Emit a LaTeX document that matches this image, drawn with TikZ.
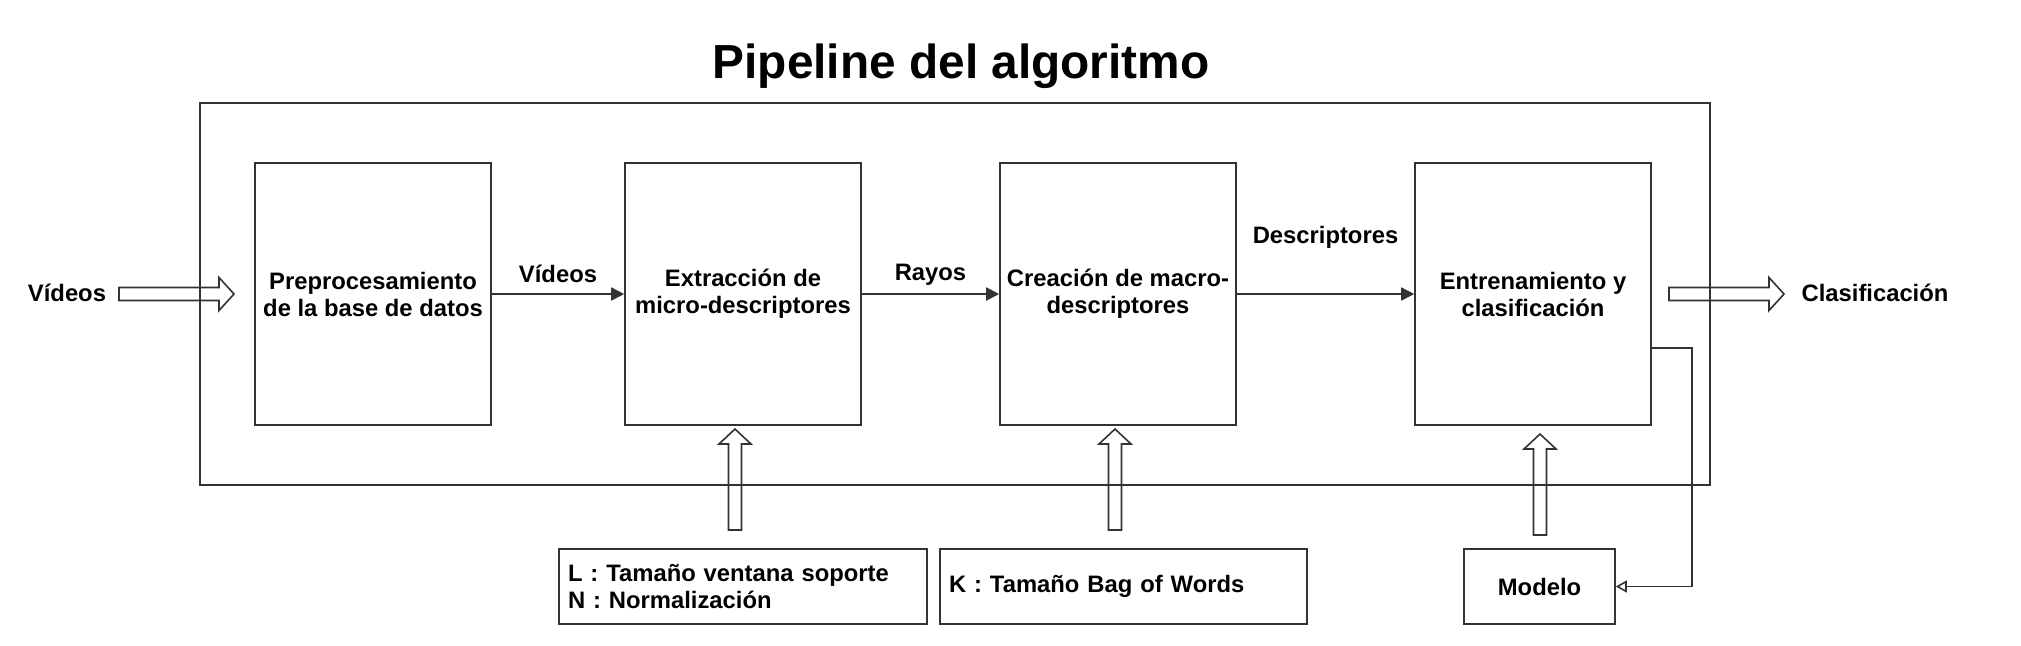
\documentclass[tikz,border=0pt]{standalone}
\usepackage{fontspec}
\setmainfont{Liberation Sans}
\usetikzlibrary{arrows.meta}
\definecolor{linea}{HTML}{333333}
\begin{document}
\begin{tikzpicture}[x=0.5pt,y=-0.5pt,
        bloque/.style={draw=linea,line width=0.8pt,minimum width=118pt,minimum height=131pt,
            align=center,font=\fontsize{11.9}{13.5}\selectfont\bfseries,inner sep=0pt},
        param/.style={draw=linea,line width=0.8pt,minimum height=37.5pt,align=left,
            font=\fontsize{11.9}{13.5}\selectfont\bfseries,inner xsep=4.5pt,inner ysep=0pt},
        etiqueta/.style={font=\fontsize{11.9}{13.5}\selectfont\bfseries},
        flujo/.style={draw=linea,line width=0.8pt,-{Triangle[length=6.5pt,width=6.5pt]}},
        retorno/.style={draw=linea,line width=0.8pt,-{Triangle[open,length=5.5pt,width=6pt]}},
        gruesa/.style={draw=linea,line width=0.8pt}]
        \useasboundingbox (0,0) rectangle (2021,645);

        % Titulo
        \node[font=\fontsize{23.9}{28}\selectfont\bfseries] (titulo) at (961,66) {Pipeline del algoritmo};

        % Marco
        \draw[draw=linea,line width=0.8pt] (200,103) rectangle (1710,485);

        % Bloques
        \node[bloque] (prep) at (373,294) {Preprocesamiento\\de la base de datos};
        \node[bloque] (extr) at (743,294) {Extracci\'on de\\micro-descriptores};
        \node[bloque] (macro) at (1118,294) {Creaci\'on de macro-\\descriptores};
        \node[bloque] (entr) at (1533,294) {Entrenamiento y\\clasificaci\'on};

        % Parametros
        \node[param,minimum width=184pt,text width=175pt] (pextr) at (743,586.5)
            {L : Tama\~no ventana soporte\\N : Normalizaci\'on};
        \node[param,minimum width=183.5pt,text width=174.5pt] (pmacro) at (1123.5,586.5)
            {K : Tama\~no Bag of Words};
        \node[param,minimum width=75.5pt,align=center,inner xsep=0pt] (modelo) at (1539.5,586.5) {Modelo};

        % Entrada y salida
        \node[etiqueta] (entrada) at (67,293) {V\'ideos};
        \node[etiqueta] (salida) at (1875,293) {Clasificaci\'on};

        % Conexiones
        \draw[flujo] (prep) -- (extr) node[midway,etiqueta,above=2pt] {V\'ideos};
        \draw[flujo,line width=1pt] (extr) -- (macro) node[midway,etiqueta,above=0.5pt] {Rayos};
        \draw[flujo] (macro) -- (entr) node[midway,etiqueta,above=19pt] {Descriptores};
        \draw[retorno] ([yshift=-27pt]entr.east) -- ++(40,0) |- (modelo.east);

        % Flechas gruesas
        \draw[gruesa] (119,287.5) -- (219,287.5) -- (219,277.5) -- (234,294) -- (219,310.5)
            -- (219,300.5) -- (119,300.5) -- cycle;
        \draw[gruesa] (1669,287.5) -- (1769,287.5) -- (1769,277.5) -- (1784,294) -- (1769,310.5)
            -- (1769,300.5) -- (1669,300.5) -- cycle;
        \foreach \x/\ya/\yb in {735/429/530,1115/429/530,1540/434/535}
            \draw[gruesa] (\x-6.5,\yb) -- (\x-6.5,\ya+15) -- (\x-16,\ya+15) -- (\x,\ya)
                -- (\x+16,\ya+15) -- (\x+6.5,\ya+15) -- (\x+6.5,\yb) -- cycle;
    \end{tikzpicture}
\end{document}
